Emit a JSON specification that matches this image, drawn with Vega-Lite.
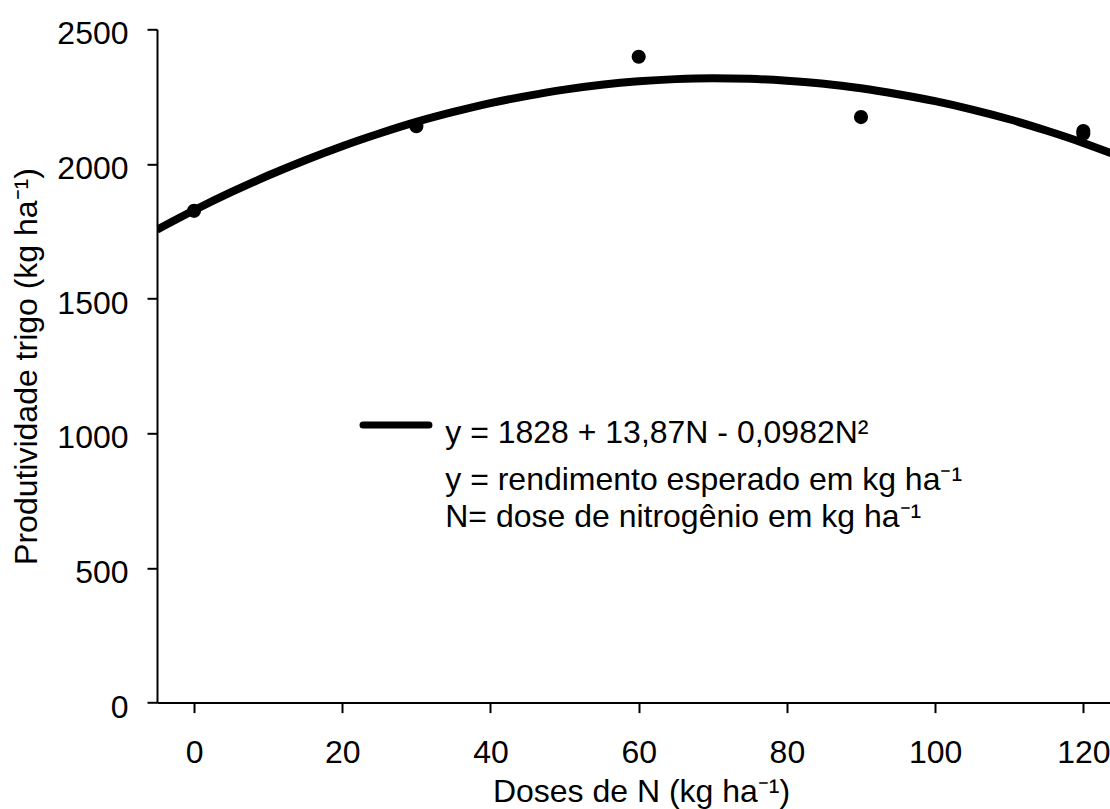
{
  "$schema": "https://vega.github.io/schema/vega-lite/v6.json",
  "autosize": {"type": "none"},
  "padding": {"left": 157, "top": 29.3, "right": 0, "bottom": 106},
  "width": 953,
  "height": 673.3,
  "config": {
    "view": {"stroke": null},
    "font": "Liberation Sans",
    "axis": {
      "grid": false,
      "domainColor": "black",
      "domainWidth": 2,
      "tickColor": "black",
      "tickWidth": 2,
      "tickSize": 10,
      "labelColor": "black",
      "titleColor": "black",
      "labelFont": "Liberation Sans",
      "titleFont": "Liberation Sans",
      "labelFontSize": 32,
      "titleFontSize": 32,
      "titleFontWeight": "normal"
    }
  },
  "datasets": {
    "obs": [
      {"N": 0, "y": 1826},
      {"N": 30, "y": 2140},
      {"N": 60, "y": 2398},
      {"N": 90, "y": 2174},
      {"N": 120, "y": 2122},
      {"N": 120, "y": 2112}
    ],
    "fit": [
      {"N": -5, "y": 1756},
      {"N": 0, "y": 1828},
      {"N": 5, "y": 1895},
      {"N": 10, "y": 1957},
      {"N": 15, "y": 2014},
      {"N": 20, "y": 2066},
      {"N": 25, "y": 2113},
      {"N": 30, "y": 2156},
      {"N": 35, "y": 2193},
      {"N": 40, "y": 2226},
      {"N": 45, "y": 2253},
      {"N": 50, "y": 2276},
      {"N": 55, "y": 2294},
      {"N": 60, "y": 2307},
      {"N": 65, "y": 2315},
      {"N": 70, "y": 2318},
      {"N": 75, "y": 2316},
      {"N": 80, "y": 2309},
      {"N": 85, "y": 2298},
      {"N": 90, "y": 2281},
      {"N": 95, "y": 2259},
      {"N": 100, "y": 2233},
      {"N": 105, "y": 2202},
      {"N": 110, "y": 2166},
      {"N": 115, "y": 2124},
      {"N": 120, "y": 2078},
      {"N": 125, "y": 2027}
    ],
    "leg": [
      {"N": 22.8, "y": 1031},
      {"N": 31.7, "y": 1031}
    ],
    "notes": [
      {"N": 33.9, "y": 965, "label": "y = 1828 + 13,87N - 0,0982N²"},
      {"N": 33.9, "y": 789, "label": "y = rendimento esperado em kg ha⁻¹"},
      {"N": 33.9, "y": 653, "label": "N= dose de nitrogênio em kg ha⁻¹"}
    ]
  },
  "layer": [
    {
      "data": {"name": "fit"},
      "mark": {"type": "line", "color": "black", "strokeWidth": 8, "clip": true, "interpolate": "monotone"},
      "encoding": {
        "x": {
          "field": "N", "type": "quantitative",
          "scale": {"domain": [-5, 123.6], "nice": false, "zero": false},
          "axis": {
            "title": "Doses de N (kg ha⁻¹)",
            "values": [0, 20, 40, 60, 80, 100, 120],
            "format": "d",
            "labelBaseline": "top",
            "labelPadding": 25,
            "labelFlush": false,
            "labelOverlap": false,
            "titleX": 484,
            "titleY": 99,
            "titleBaseline": "alphabetic",
            "titleAlign": "center"
          }
        },
        "y": {
          "field": "y", "type": "quantitative",
          "scale": {"domain": [0, 2500], "nice": false},
          "axis": {
            "title": "Produtividade trigo (kg ha⁻¹)",
            "values": [0, 500, 1000, 1500, 2000, 2500],
            "format": "d",
            "labelPadding": 19,
            "labelOffset": 4.5,
            "labelBaseline": "middle",
            "labelFlush": false,
            "labelOverlap": false,
            "titleAngle": -90,
            "titleX": -120.6,
            "titleY": 336.7,
            "titleBaseline": "alphabetic",
            "titleAlign": "center"
          }
        }
      }
    },
    {
      "data": {"name": "obs"},
      "mark": {"type": "circle", "color": "black", "size": 200, "opacity": 1},
      "encoding": {
        "x": {"field": "N", "type": "quantitative"},
        "y": {"field": "y", "type": "quantitative"}
      }
    },
    {
      "data": {"name": "leg"},
      "mark": {"type": "line", "color": "black", "strokeWidth": 7, "strokeCap": "round"},
      "encoding": {
        "x": {"field": "N", "type": "quantitative"},
        "y": {"field": "y", "type": "quantitative"}
      }
    },
    {
      "data": {"name": "notes"},
      "mark": {"type": "text", "align": "left", "baseline": "alphabetic", "fontSize": 32, "font": "Liberation Sans", "color": "black"},
      "encoding": {
        "x": {"field": "N", "type": "quantitative"},
        "y": {"field": "y", "type": "quantitative"},
        "text": {"field": "label"}
      }
    }
  ]
}
